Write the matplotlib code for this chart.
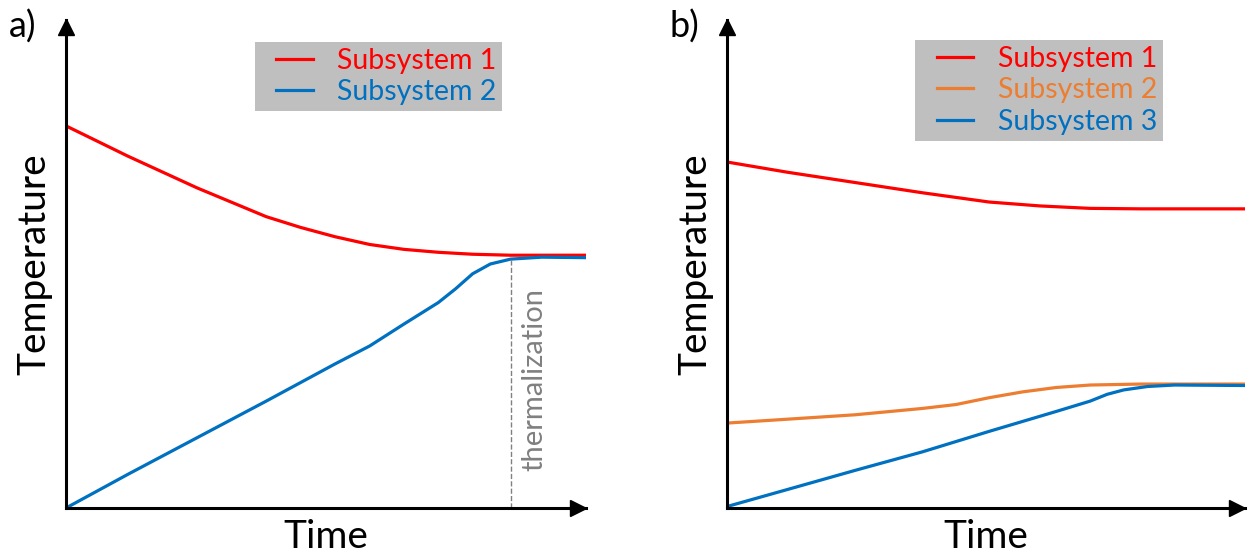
import matplotlib.pyplot as plt
from matplotlib.lines import Line2D
from matplotlib.legend_handler import HandlerLine2D

# panel a) (time 0..10, temperature 0..10)
t_a_red = [0, 1.19, 2.52, 3.85, 4.51, 5.17, 5.84, 6.50, 7.16, 7.82, 8.55, 10]
T_a_red = [7.83, 7.21, 6.56, 5.97, 5.75, 5.56, 5.40, 5.30, 5.24, 5.20, 5.18, 5.18]
t_a_blue = [0, 1.19, 2.52, 3.85, 5.17, 5.84, 6.50, 7.16, 7.49, 7.82, 8.16, 8.55, 9.15, 10]
T_a_blue = [0, 0.69, 1.44, 2.19, 2.95, 3.32, 3.77, 4.21, 4.49, 4.80, 5.00, 5.10, 5.14, 5.13]
t_therm = 8.56
T_therm = 5.12

# panel b)
t_b_red = [0, 1.17, 2.47, 3.77, 5.06, 6.04, 7.01, 7.99, 10]
T_b_red = [7.09, 6.88, 6.67, 6.46, 6.27, 6.19, 6.14, 6.13, 6.13]
t_b_orange = [0, 1.17, 2.47, 3.77, 4.42, 5.06, 5.71, 6.36, 7.01, 7.99, 10]
T_b_orange = [1.74, 1.82, 1.91, 2.04, 2.12, 2.26, 2.38, 2.47, 2.52, 2.54, 2.54]
t_b_blue = [0, 1.17, 2.47, 3.77, 5.06, 6.36, 7.01, 7.34, 7.66, 8.12, 8.64, 10]
T_b_blue = [0.03, 0.38, 0.77, 1.15, 1.57, 1.98, 2.19, 2.33, 2.42, 2.49, 2.52, 2.51]

RED = '#ff0000'
BLUE = '#0070c0'
ORANGE = '#ed7d31'

W, H = 1249, 558
fig = plt.figure(figsize=(W / 100, H / 100), dpi=100)
plt.rcParams['font.family'] = 'Lato'
plt.rcParams['lines.solid_joinstyle'] = 'round'


def make_axes(x0, y0, w, h):
    ax = fig.add_axes([x0 / W, (H - y0) / H, w / W, h / H])
    ax.set_xlim(0, 10)
    ax.set_ylim(0, 10)
    for s in ['top', 'right']:
        ax.spines[s].set_visible(False)
    for s in ['left', 'bottom']:
        ax.spines[s].set_linewidth(2.2)
    ax.set_xticks([])
    ax.set_yticks([])
    ax.plot(0.985, 0, '>k', ms=11, transform=ax.transAxes, clip_on=False)
    ax.plot(0, 0.985, '^k', ms=11, transform=ax.transAxes, clip_on=False)
    ax.set_xlabel('Time', fontsize=28, labelpad=8)
    ax.set_ylabel('Temperature', fontsize=28, labelpad=10)
    return ax


def add_legend(ax, top):
    ax.legend(loc='upper left', bbox_to_anchor=(0.363, top), fontsize=20.5,
              facecolor='#bfbfbf', edgecolor='none', framealpha=1,
              fancybox=False, labelcolor='linecolor', handlelength=2.4,
              handletextpad=0.3, borderpad=0.2, labelspacing=0.2,
              borderaxespad=0,
              handler_map={Line2D: HandlerLine2D(numpoints=2, marker_pad=0.56)})


ax1 = make_axes(66, 508, 520, 488)
ax1.plot(t_a_red, T_a_red, color=RED, lw=2.3, label='Subsystem 1')
ax1.plot(t_a_blue, T_a_blue, color=BLUE, lw=2.3, label='Subsystem 2')
ax1.plot([t_therm, t_therm], [0, T_therm], color='grey', lw=1, ls='--')
ax1.text(t_therm + 0.45, 2.63, 'thermalization', rotation=90, color='grey',
         fontsize=21, ha='center', va='center')
add_legend(ax1, 0.955)
fig.text(23 / W, 1 - 27 / H, 'a)', fontsize=26, ha='center', va='center')

ax2 = make_axes(727, 508, 518, 488)
ax2.plot(t_b_red, T_b_red, color=RED, lw=2.3, label='Subsystem 1')
ax2.plot(t_b_orange, T_b_orange, color=ORANGE, lw=2.3, label='Subsystem 2')
ax2.plot(t_b_blue, T_b_blue, color=BLUE, lw=2.3, label='Subsystem 3')
add_legend(ax2, 0.959)
fig.text(684 / W, 1 - 27 / H, 'b)', fontsize=26, ha='center', va='center')

fig.savefig('out.png', dpi=100)
